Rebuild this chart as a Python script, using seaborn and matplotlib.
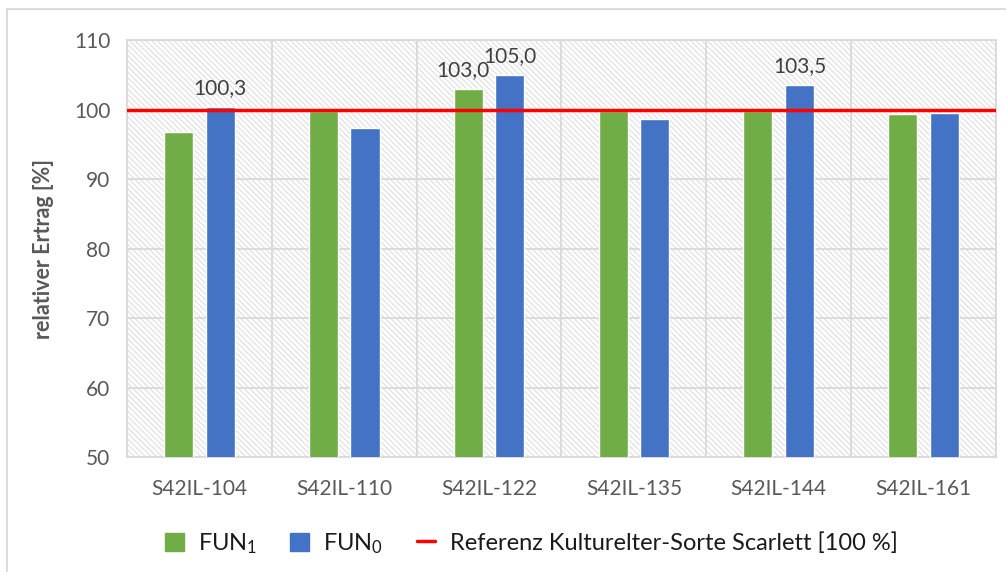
import matplotlib.pyplot as plt
import numpy as np
import pandas as pd
import seaborn as sns
from matplotlib.lines import Line2D
from matplotlib.patches import Patch

# data
sorten = ['S42IL-104', 'S42IL-110', 'S42IL-122', 'S42IL-135', 'S42IL-144', 'S42IL-161']
fun1 = [96.8, 99.8, 103.0, 99.8, 99.8, 99.4]
fun0 = [100.3, 97.4, 105.0, 98.6, 103.5, 99.5]
show_fun1 = [False, False, True, False, False, False]
show_fun0 = [True, False, True, False, True, False]
referenz = 100

green = '#70AD47'
blue = '#4472C4'
grid_col = '#d9d9d9'
text_col = '#595959'

df = pd.DataFrame({
    'Sorte': sorten * 2,
    'Serie': ['FUN1'] * len(sorten) + ['FUN0'] * len(sorten),
    'Ertrag': fun1 + fun0,
})

sns.set_style('white')
plt.rcParams['font.family'] = ['Lato', 'DejaVu Sans']
plt.rcParams['mathtext.fontset'] = 'custom'
plt.rcParams['mathtext.rm'] = 'Lato'
plt.rcParams['mathtext.it'] = 'Lato'
plt.rcParams['hatch.linewidth'] = 0.8

fig = plt.figure(figsize=(10.06, 5.72), dpi=100)
ax = fig.add_axes([0.1262, 0.201, 0.8638, 0.729])

# hatched plot area like the Excel pattern fill
ax.patch.set_facecolor('white')
ax.patch.set_hatch('\\\\\\\\\\\\')
ax.patch.set_edgecolor('#dedede')
ax.patch.set_linewidth(0)

sns.barplot(data=df, x='Sorte', y='Ertrag', hue='Serie',
            palette={'FUN1': green, 'FUN0': blue},
            width=0.574, gap=0.3, saturation=1, ax=ax, legend=False,
            zorder=3)

ax.axhline(referenz, color='#FF0000', lw=2.5, zorder=4)

ax.set_ylim(50, 110)
ax.set_xlim(-0.5, len(sorten) - 0.5)
ax.set_yticks(np.arange(50, 111, 10))
ax.set_xticks(np.arange(-0.5, len(sorten), 1), minor=True)
ax.grid(True, axis='y', which='major', color=grid_col, lw=1.3, zorder=1)
ax.grid(True, axis='x', which='minor', color=grid_col, lw=1.3, zorder=1)
ax.grid(False, axis='x', which='major')
ax.set_axisbelow(True)
for s in ax.spines.values():
    s.set_color(grid_col)
    s.set_linewidth(1.3)

ax.tick_params(axis='both', which='both', length=0, labelsize=15, colors=text_col)
ax.tick_params(axis='x', pad=16)
ax.tick_params(axis='y', pad=12)
ax.set_xlabel('')
ax.set_ylabel('relativer Ertrag [%]', fontsize=15.5, fontweight='bold', color=text_col, labelpad=14)

# value labels for selected bars (left label nudged when both bars carry one)
n = len(sorten)
bars = ax.patches[:2 * n]
vals = fun1 + fun0
shows = show_fun1 + show_fun0
for i, (bar, v, s) in enumerate(zip(bars, vals, shows)):
    if s:
        dx = -4 if (i < n and show_fun0[i]) else 0
        ax.annotate(f'{v:.1f}'.replace('.', ','),
                    xy=(bar.get_x() + bar.get_width() / 2, bar.get_height()),
                    xytext=(dx, 6.5), textcoords='offset points',
                    ha='center', va='bottom', fontsize=15, color='#404040', zorder=5)

handles = [Patch(color=green, label='FUN$_1$'),
           Patch(color=blue, label='FUN$_0$'),
           Line2D([], [], color='#FF0000', lw=2.5, label='Referenz Kulturelter-Sorte Scarlett [100 %]')]
fig.legend(handles=handles, loc='center', bbox_to_anchor=(0.528, 0.05), ncol=3,
           frameon=False, fontsize=17, handlelength=0.8, handleheight=0.8,
           columnspacing=1.4, handletextpad=0.6, labelcolor='#1a1a1a')

# outer chart border (left and top visible)
fig.add_artist(Line2D([0.007, 0.007], [0, 0.984], color=grid_col, lw=1.3, transform=fig.transFigure))
fig.add_artist(Line2D([0.007, 1.0], [0.984, 0.984], color=grid_col, lw=1.3, transform=fig.transFigure))

fig.savefig('out.png', dpi=100)
